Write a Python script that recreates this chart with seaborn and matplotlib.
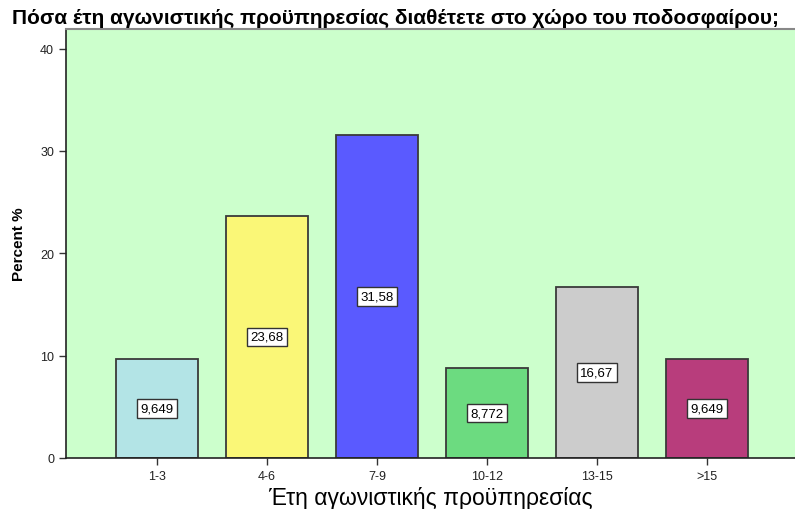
import matplotlib
matplotlib.use("Agg")
import pandas as pd
import seaborn as sns
import matplotlib.pyplot as plt

categories = ["1-3", "4-6", "7-9", "10-12", "13-15", ">15"]
percent = [9.649, 23.68, 31.58, 8.772, 16.67, 9.649]
labels = ["9,649", "23,68", "31,58", "8,772", "16,67", "9,649"]
colors = ["#B3E4E6", "#FAF777", "#5A5AFF", "#6CDB80", "#CCCCCC", "#B83D7C"]

df = pd.DataFrame({"cat": categories, "pct": percent})

sns.set_style("ticks")
plt.rcParams["font.family"] = ["Liberation Sans", "DejaVu Sans"]

fig = plt.figure(figsize=(7.95, 5.1), dpi=100)
ax = fig.add_axes([0.083, 0.1, 0.917, 0.841])
ax.set_facecolor("#CCFFCC")

sns.barplot(data=df, x="cat", y="pct", hue="cat", palette=colors, order=categories,
            hue_order=categories, legend=False, width=0.75, edgecolor="#3a3a3a",
            linewidth=1.3, saturation=1, ax=ax)

for i, (v, t) in enumerate(zip(percent, labels)):
    ax.text(i, v / 2, t, ha="center", va="center", fontsize=9.5, color="black",
            bbox=dict(boxstyle="square,pad=0.25", fc="white", ec="#333333", lw=1))

ax.set_xlim(-0.827, 5.8)
ax.set_ylim(0, 41.9)
ax.set_yticks([0, 10, 20, 30, 40])
ax.tick_params(axis="both", direction="out", length=5, width=1, labelsize=9,
               labelcolor="#222222", color="#333333")
ax.set_xlabel("Έτη αγωνιστικής προϋπηρεσίας", fontsize=16.5, labelpad=3, color="black")
ax.set_ylabel("Percent %", fontsize=11, fontweight="bold", labelpad=10, color="black")

for s in ["left", "bottom"]:
    ax.spines[s].set_color("#222222")
    ax.spines[s].set_linewidth(1.2)
ax.spines["top"].set_visible(True)
ax.spines["top"].set_color("#888888")
ax.spines["top"].set_linewidth(1.5)
ax.spines["right"].set_visible(False)

fig.text(0.015, 0.963, "Πόσα έτη αγωνιστικής προϋπηρεσίας διαθέτετε στο χώρο του ποδοσφαίρου;",
         fontsize=15, fontweight="bold", ha="left", va="center", color="black")

fig.savefig("out.png", dpi=100)
